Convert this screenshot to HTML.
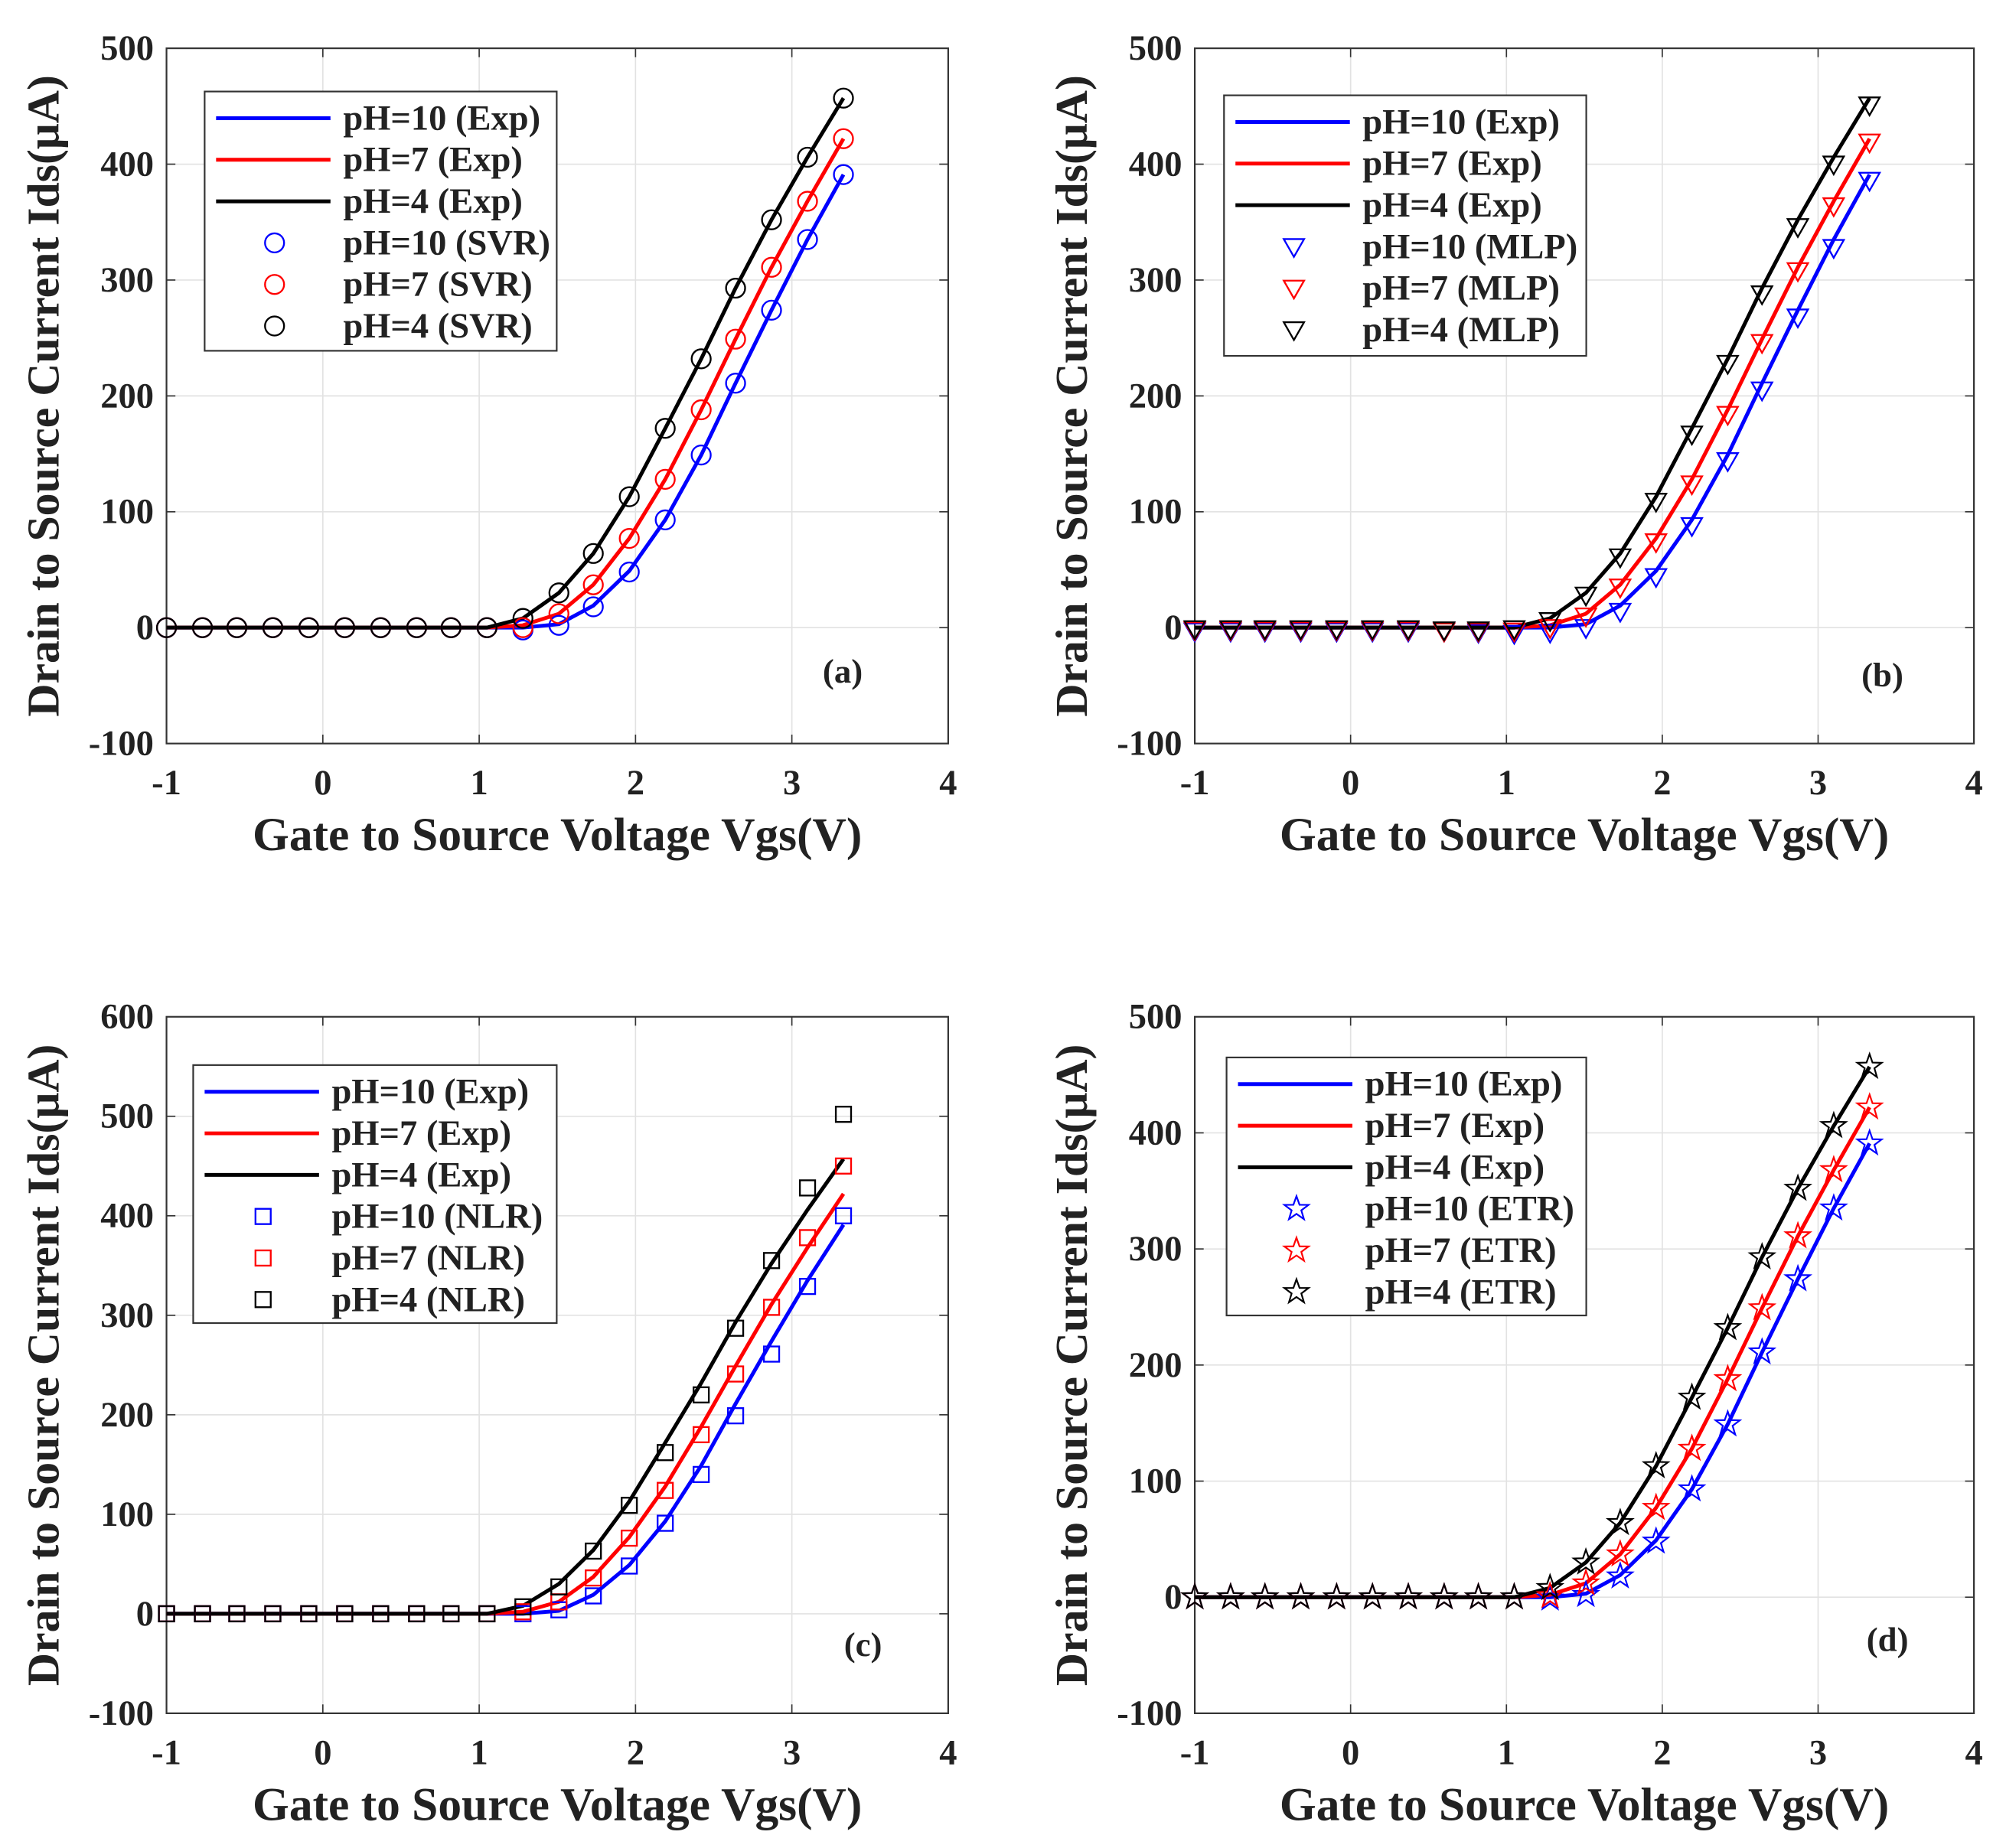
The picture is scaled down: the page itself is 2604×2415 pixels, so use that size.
<!DOCTYPE html>
<html><head><meta charset="utf-8"><style>
html,body{margin:0;padding:0;background:#fff}
svg{display:block}
text{font-family:"Liberation Serif",serif;font-weight:bold;fill:#222}
</style></head><body>
<svg id="fig" width="2604" height="2415" viewBox="0 0 1568 1454" preserveAspectRatio="none" xmlns="http://www.w3.org/2000/svg"></svg>
<script>
const xs = [-1,-0.77,-0.55,-0.32,-0.09,0.14,0.37,0.60,0.82,1.05,1.28,1.51,1.73,1.96,2.19,2.42,2.64,2.87,3.10,3.33];
const exp10 = [0,0,0,0,0,0,0,0,0,0,0,3,19,49,93,149,211,274,335,391];
const exp7  = [0,0,0,0,0,0,0,0,0,0,2,12,37,77,128,188,249,311,368,422];
const exp4  = [0,0,0,0,0,0,0,0,0,0,8,30,64,113,172,232,293,352,406,457];
const svr10 = [0,0,0,0,0,0,0,0,0,0,-2,2,18,48,93,149,211,274,335,391];
const svr7  = [0,0,0,0,0,0,0,0,0,0,0,12,37,77,128,188,249,311,368,422];
const svr4  = [0,0,0,0,0,0,0,0,0,0,8,30,64,113,172,232,293,352,406,457];
const mlp10 = [-3,-3,-3,-3,-3,-3,-3,-3,-4,-5,-4,0,14,44,88,144,205,268,328,386];
const mlp7  = [-2,-2,-2,-2,-2,-2,-2,-3,-3,-3,0,10,35,74,124,184,246,308,364,419];
const mlp4  = [-1,-1,-1,-1,-1,-1,-1,-2,-2,-1,6,28,61,109,167,228,288,346,400,451];
const nlr10 = [0,0,0,0,0,0,0,0,0,0,0,4,18,48,91,140,199,261,329,400];
const nlr7  = [0,0,0,0,0,0,0,0,0,0,2,12,36,76,124,180,241,308,378,450];
const nlr4  = [0,0,0,0,0,0,0,0,0,0,7,27,63,109,162,220,287,355,428,502];
const etr10 = [0,0,0,0,0,0,0,0,0,0,-1,2,18,48,93,149,211,274,335,391];
const etr7  = [0,0,0,0,0,0,0,0,0,0,1,12,37,77,128,188,249,311,368,422];
const etr4  = [0,0,0,0,0,0,0,0,0,0,8,30,64,113,172,232,293,352,406,457];
const xTicks = [-1,0,1,2,3,4];
const yTicks5 = [-100,0,100,200,300,400,500];
const yTicks6 = [-100,0,100,200,300,400,500,600];

const NS="http://www.w3.org/2000/svg";
const fig=document.getElementById('fig');
function mk(tag,attrs,parent){const e=document.createElementNS(NS,tag);for(const k in attrs)e.setAttribute(k,attrs[k]);(parent||fig).appendChild(e);return e;}
const colors=['#0000ff','#ff0000','#000000'];

function marker(g,type,cx,cy,col){
  let e;
  if(type==='circle'){e=mk('circle',{cx:cx,cy:cy,r:7.5,fill:'none',stroke:col,'stroke-width':1.4},g);}
  else if(type==='tri'){e=mk('polygon',{points:`${cx-8},${cy-6} ${cx+8},${cy-6} ${cx},${cy+8}`,fill:'none',stroke:col,'stroke-width':1.4},g);}
  else if(type==='square'){e=mk('rect',{x:cx-6,y:cy-6,width:12,height:12,fill:'none',stroke:col,'stroke-width':1.4},g);}
  else {let p=[];for(let i=0;i<10;i++){const r=i%2?4:10;const a=-Math.PI/2+i*Math.PI/5;p.push((cx+r*Math.cos(a)).toFixed(1)+','+(cy+r*Math.sin(a)).toFixed(1));}
    e=mk('polygon',{points:p.join(' '),fill:'none',stroke:col,'stroke-width':1.3},g);}
  return e;
}

function panel(o){
  const g=mk('g',{});
  
  
  const {L,R,T,B,ymin,ymax}=o;
  const sx=v=>L+(v-(-1))/5*(R-L);
  const sy=v=>B-(v-ymin)/(ymax-ymin)*(B-T);
  mk('rect',{x:L,y:T,width:R-L,height:B-T,fill:'#fff'},g);
  xTicks.forEach(t=>{const x=sx(t);
    if(t>-1&&t<4){const gl=mk('line',{x1:x,y1:T,x2:x,y2:B,stroke:'#e2e2e2','stroke-width':1},g);
      mk('line',{x1:x,y1:B,x2:x,y2:B-7,stroke:'#333','stroke-width':1},g);mk('line',{x1:x,y1:T,x2:x,y2:T+7,stroke:'#333','stroke-width':1},g);}
    const tl=mk('text',{x:x,y:B+40,'font-size':28,'text-anchor':'middle'},g);tl.textContent=t;
    });
  o.yt.forEach(t=>{const y=sy(t);
    if(t>ymin&&t<ymax){const gl=mk('line',{x1:L,y1:y,x2:R,y2:y,stroke:'#e2e2e2','stroke-width':1},g);
      mk('line',{x1:L,y1:y,x2:L+7,y2:y,stroke:'#333','stroke-width':1},g);mk('line',{x1:R,y1:y,x2:R-7,y2:y,stroke:'#333','stroke-width':1},g);}
    const tl=mk('text',{x:L-10,y:y+9,'font-size':28,'text-anchor':'end'},g);tl.textContent=t;
    });
  const fr=mk('rect',{x:L,y:T,width:R-L,height:B-T,fill:'none',stroke:'#333','stroke-width':1.3},g);
  
  [exp10,exp7,exp4].forEach((s,i)=>{
    const d=s.map((v,j)=>(j?'L':'M')+sx(xs[j]).toFixed(1)+','+sy(v).toFixed(1)).join(' ');
    const p=mk('path',{d:d,fill:'none',stroke:colors[i],'stroke-width':3},g);
    });
  o.pred.forEach((s,i)=>{s.forEach((v,j)=>{const m=marker(g,o.mk,sx(xs[j]),sy(v),colors[i]);
    });});
  const lg=mk('g',{},g);
  
  const [lx,ly,lw,lh]=o.leg;
  mk('rect',{x:lx,y:ly,width:lw,height:lh,fill:'#fff',stroke:'#333','stroke-width':1.3},lg);
  const labels=['pH=10 (Exp)','pH=7 (Exp)','pH=4 (Exp)','pH=10 ('+o.model+')','pH=7 ('+o.model+')','pH=4 ('+o.model+')'];
  labels.forEach((lab,i)=>{const y=ly+21+i*32.7;
    if(i<3){mk('line',{x1:lx+9,y1:y,x2:lx+99,y2:y,stroke:colors[i],'stroke-width':3},lg);}
    else marker(lg,o.mk,lx+55,y,colors[i-3]);
    const t=mk('text',{x:lx+109,y:y+9,'font-size':28},lg);t.textContent=lab;
    });
  const pl=mk('text',{x:o.lab[0],y:o.lab[1],'font-size':27,'text-anchor':'middle'},g);pl.textContent='('+o.id+')';
  
  const xt=mk('text',{x:(L+R)/2,y:B+84,'font-size':37,'text-anchor':'middle'},g);xt.textContent='Gate to Source Voltage Vgs(V)';
  
  const cy=(T+B)/2;
  const yx=L-85;
  const yt=mk('text',{x:yx,y:cy,'font-size':36,'text-anchor':'middle',transform:`rotate(-90 ${yx} ${cy})`},g);
  yt.textContent='Drain to Source Current Ids(μA)';
  
}
panel({id:'a',L:131,R:746,T:38,B:585,ymin:-100,ymax:500,yt:yTicks5,pred:[svr10,svr7,svr4],mk:'circle',model:'SVR',leg:[161,72,277,204],lab:[663,537]});
panel({id:'b',L:940,R:1553,T:38,B:585,ymin:-100,ymax:500,yt:yTicks5,pred:[mlp10,mlp7,mlp4],mk:'tri',model:'MLP',leg:[963,75,285,205],lab:[1481,540]});
panel({id:'c',L:131,R:746,T:800,B:1348,ymin:-100,ymax:600,yt:yTicks6,pred:[nlr10,nlr7,nlr4],mk:'square',model:'NLR',leg:[152,838,286,203],lab:[679,1303]});
panel({id:'d',L:940,R:1553,T:800,B:1348,ymin:-100,ymax:500,yt:yTicks5,pred:[etr10,etr7,etr4],mk:'star',model:'ETR',leg:[965,832,283,203],lab:[1485,1299]});
</script>
</body></html>
